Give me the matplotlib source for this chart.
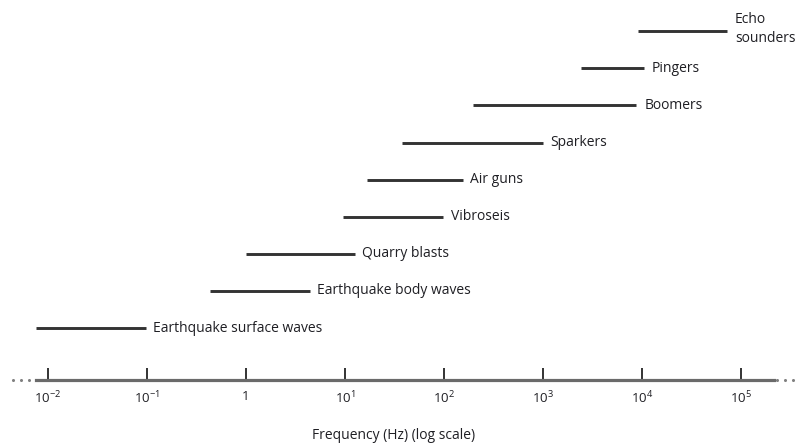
import numpy as np
import matplotlib
matplotlib.use("Agg")
import matplotlib.pyplot as plt

# Frequency ranges of seismic sources (Hz), bottom row first
sources = ["Earthquake surface waves", "Earthquake body waves", "Quarry blasts",
           "Vibroseis", "Air guns", "Sparkers", "Boomers", "Pingers", "Echo\nsounders"]
f_low = [0.0075, 0.43, 1.0, 9.5, 16.5, 38, 195, 2400, 9100]
f_high = [0.097, 4.4, 12.5, 98, 155, 1000, 8800, 10500, 73000]

tick_exponents = [-2, -1, 0, 1, 2, 3, 4, 5]
tick_labels = [r"10$^{-2}$", r"10$^{-1}$", "1", r"10$^{1}$", r"10$^{2}$",
               r"10$^{3}$", r"10$^{4}$", r"10$^{5}$"]

FONT = "Open Sans"
plt.rcParams["font.family"] = [FONT, "DejaVu Sans"]
plt.rcParams["mathtext.fontset"] = "custom"
plt.rcParams["mathtext.rm"] = FONT
plt.rcParams["mathtext.it"] = FONT
plt.rcParams["mathtext.default"] = "rm"

TEXT = "#1f1f24"
BAR = "#333333"
AXIS = "#6a6a6a"

fig = plt.figure(figsize=(7.98, 4.45), dpi=100)
ax = fig.add_axes([0, 0, 1, 1])
ax.set_xscale("log")
ax.set_xlim(10 ** -2.485, 10 ** 5.576)
ax.set_ylim(-3.15, 8.84)

rows = np.arange(len(sources))
for r, lo, hi, name in zip(rows, f_low, f_high, sources):
    ax.plot([lo, hi], [r, r], color=BAR, lw=2.1, solid_capstyle="butt")
    ax.annotate(name, xy=(hi, r), xytext=(5.5, 1.5 if "\n" in name else 0),
                textcoords="offset points", va="center", ha="left",
                fontsize=10, color=TEXT, linespacing=1.3)

# frequency axis drawn as the bottom spine, ticks pointing up
axis_y = -1.40
for s in ["top", "right", "left"]:
    ax.spines[s].set_visible(False)
ax.spines["bottom"].set_position(("data", axis_y))
ax.spines["bottom"].set_bounds(10 ** -2.12, 10 ** 5.33)
ax.spines["bottom"].set_color(AXIS)
ax.spines["bottom"].set_linewidth(2.3)
ax.set_yticks([])
ax.set_xticks([10.0 ** e for e in tick_exponents])
ax.set_xticklabels(tick_labels)
ax.xaxis.set_minor_locator(matplotlib.ticker.NullLocator())
ax.tick_params(axis="x", direction="in", length=9, width=1.4, color="#333333",
               pad=7, labelsize=9.5, labelcolor=TEXT)

# dotted continuation at both ends of the axis
dots_left = [10 ** -2.355, 10 ** -2.275, 10 ** -2.195]
dots_right = [10 ** 5.365, 10 ** 5.445, 10 ** 5.525]
for xs in (dots_left, dots_right):
    ax.plot(xs, [axis_y] * 3, ls="none", marker="o", ms=2.2, mew=0,
            color="#808080")

ax.text(0.493, 0.021, "Frequency (Hz) (log scale)", transform=ax.transAxes,
        ha="center", va="center", fontsize=10, color=TEXT)

fig.savefig("out.png", dpi=100)
